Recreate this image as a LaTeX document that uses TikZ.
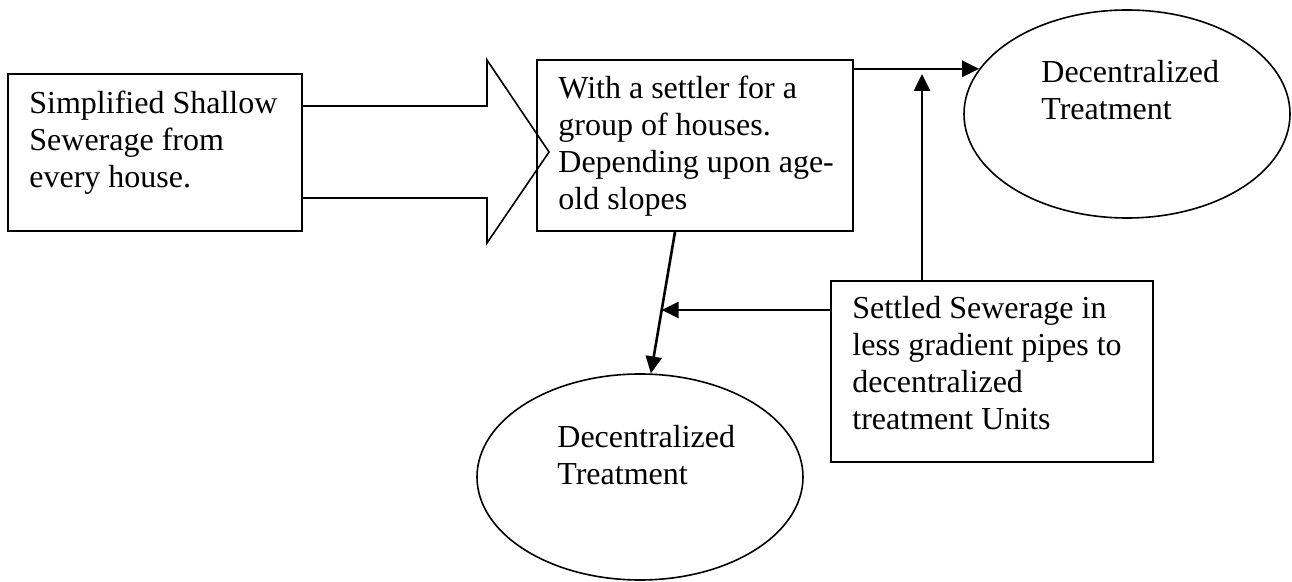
\documentclass[tikz,border=0pt]{standalone}
\usepackage{fontspec}
\setmainfont{Liberation Serif}
\usetikzlibrary{arrows.meta,shapes.geometric,calc}
\begin{document}
\begin{tikzpicture}[x=0.5pt,y=-0.5pt,
  box/.style={draw, line width=0.9pt, rectangle, inner sep=0},
  oval/.style={draw, ellipse, line width=0.8pt, inner sep=0, minimum width=163pt, minimum height=103pt},
  txt/.style={anchor=base west, align=left, inner sep=0, font=\fontsize{16}{18.5}\selectfont},
  arr/.style={line width=1.3pt, -{Triangle[length=8.5pt,width=8pt]}},
  blockarrow/.style={draw, line width=0.8pt, line join=miter}]
\useasboundingbox (0,0) rectangle (1292,582);
% boxes
\node[box, minimum width=147pt, minimum height=78.5pt] (b1) at (155,152.5) {};
\node[box, minimum width=158pt, minimum height=85.5pt] (b2) at (695,145.5) {};
\node[box, minimum width=161pt, minimum height=90.5pt] (b3) at (992,371.5) {};
% ellipses
\node[oval, minimum height=104pt] (e1) at (1127,114) {};
\node[oval] (e2) at (640,477) {};
% block arrow
\draw[blockarrow] (b1.east |- 0,106) -- (487,106) -- (487,60) -- (549,152) -- (487,243) -- (487,198) -- (b1.east |- 0,198);
% texts (anchored at the baseline of the last line)
\node[txt] (t1) at (29,188) {Simplified Shallow\\Sewerage from\\every house.};
\node[txt] (t2) at (558,210) {With a settler for a\\group of houses.\\Depending upon age-\\old slopes};
\node[txt] (t3) at (852,430) {Settled Sewerage in\\less gradient pipes to\\decentralized\\treatment Units};
\node[txt] (t4) at (1041,120) {Decentralized\\Treatment};
\node[txt] (t5) at (557,485) {Decentralized\\Treatment};
% connectors
\draw[arr] (e1.163 -| b2.east) -- (e1.163);
\coordinate (vt) at (922,74);
\draw[arr] (b3.north -| vt) -- (vt);
\path (b2.south) ++(-20,0) coordinate (s1);
\coordinate (s2) at (e2.84);
\draw[arr] (s1) -- (s2);
\coordinate (m) at ($(s1)!0.552!(s2)$);
\draw[arr] (b3.west |- m) -- (m);
\end{tikzpicture}
\end{document}
